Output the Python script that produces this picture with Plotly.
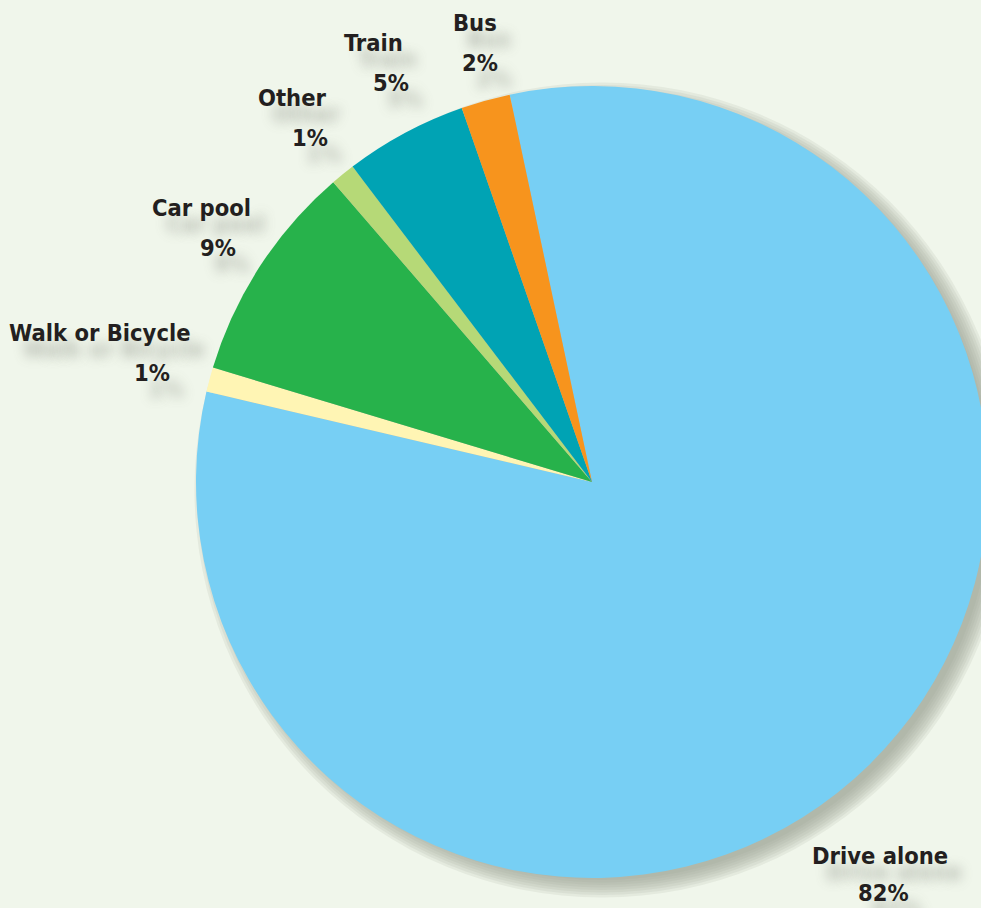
import plotly.graph_objects as go

# Commute mode shares (percent of workers)
categories = ["Drive alone", "Walk or Bicycle", "Car pool", "Other", "Train", "Bus"]
shares = [82, 1, 9, 1, 5, 2]
colors = ["#77cff4", "#fff5b4", "#27b24b", "#b6d977", "#00a3b4", "#f7941d"]

# Label anchor points in pixels: (name_x, name_y, pct_x, pct_y)
label_pos = {
    "Drive alone": (880, 856, 883, 893),
    "Walk or Bicycle": (100, 333, 152, 373),
    "Car pool": (201, 208, 218, 248),
    "Other": (292, 98, 310, 138),
    "Train": (373, 43, 391, 83),
    "Bus": (475, 23, 480, 63),
}

W, H = 1020, 908
BG = "#f0f6eb"
CX, CY, R = 592, 482, 396


def domain(cx, cy, r):
    return dict(x=[(cx - r) / W, (cx + r) / W], y=[1 - (cy + r) / H, 1 - (cy - r) / H])


fig = go.Figure()

# soft drop shadow built from stacked translucent discs
for k in range(8):
    r = R - 6 + 2.5 * k
    fig.add_trace(go.Pie(
        values=[1], labels=["shadow"], sort=False,
        marker=dict(colors=["rgba(150,155,145,0.135)"], line=dict(width=0)),
        textinfo="none", hoverinfo="skip", showlegend=False,
        domain=domain(CX + 10, CY + 8, r),
    ))

fig.add_trace(go.Pie(
    labels=categories, values=shares, sort=False,
    direction="clockwise", rotation=-12,
    marker=dict(colors=colors, line=dict(width=0)),
    textinfo="none", hoverinfo="label+percent", showlegend=False,
    domain=domain(CX, CY, R),
))

font = dict(family="Liberation Sans Narrow, DejaVu Sans Condensed, Arial Narrow, sans-serif",
            size=23.5, color="#231f20", weight="bold",
            shadow="14px 16px 12px rgba(105,110,100,0.42)")

annotations = []
for cat, val in zip(categories, shares):
    nx, ny, px, py = label_pos[cat]
    annotations.append(dict(text=cat, x=nx / W, y=1 - ny / H, xref="paper", yref="paper",
                            xanchor="center", yanchor="middle", showarrow=False, font=font))
    annotations.append(dict(text=f"{val}%", x=px / W, y=1 - py / H, xref="paper", yref="paper",
                            xanchor="center", yanchor="middle", showarrow=False, font=font))

fig.update_layout(
    width=W, height=H,
    margin=dict(l=0, r=0, t=0, b=0),
    paper_bgcolor=BG, plot_bgcolor=BG,
    annotations=annotations,
)

fig.write_html(
    "out.html",
    post_script="document.body.style.margin='0';document.body.style.overflow='hidden';",
)
